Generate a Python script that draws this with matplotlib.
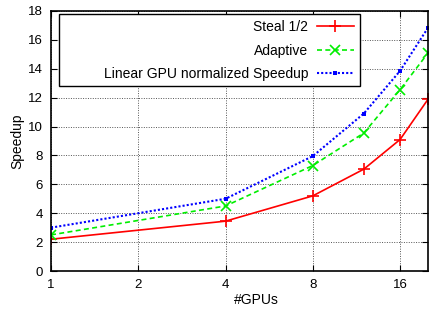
import matplotlib
matplotlib.use("Agg")
import matplotlib.pyplot as plt
from matplotlib.patches import Rectangle

plt.rcParams['font.family'] = ['Liberation Sans', 'DejaVu Sans']

gpus = [1, 4, 8, 12, 16, 20]
steal = [2.2, 3.45, 5.2, 7.05, 9.1, 11.9]
adaptive = [2.5, 4.5, 7.3, 9.55, 12.55, 15.1]
linear = [3.0, 5.0, 7.95, 10.9, 13.85, 16.85]
xticks = [1, 2, 4, 8, 16]
yticks = list(range(0, 19, 2))

fig = plt.figure(figsize=(4.36, 3.16), dpi=100)
ax = fig.add_axes([0.117, 0.1424, 0.865, 0.823])

ax.plot(gpus, steal, color='#ff0000', ls='-', lw=1.2, marker='+', ms=8, mew=1.2, label='Steal 1/2')
ax.plot(gpus, adaptive, color='#00ee00', ls=(0, (3, 2)), lw=1.2, marker='x', ms=7, mew=1.2, label='Adaptive')
ax.plot(gpus, linear, color='#0000ff', ls=(0, (1, 1)), lw=1.5, marker='s', ms=3.5, mew=0, label='Linear GPU normalized Speedup')

ax.set_xscale('log', base=2)
ax.set_xlim(1, 20)
ax.set_ylim(0, 18)
ax.set_xticks(xticks)
ax.set_xticklabels([str(t) for t in xticks])
ax.minorticks_off()
ax.set_yticks(yticks)
ax.tick_params(direction='in', top=True, right=True, labelsize=9.5, length=4, width=0.8, pad=6)
ax.grid(True, color='#555555', ls=(0, (1, 1.5)), lw=0.7)
for s in ax.spines.values():
    s.set_linewidth(1.2)

ax.set_xlabel('#GPUs', fontsize=10)
ax.xaxis.set_label_coords(0.545, -0.085)
ax.set_ylabel('Speedup', fontsize=10)
ax.yaxis.set_label_coords(-0.07, 0.5)

# gnuplot-style key box: wider than its contents, text right aligned
ax.add_patch(Rectangle((0.021, 0.712), 0.799, 0.276, transform=ax.transAxes,
                       facecolor='white', edgecolor='black', lw=1.0, zorder=4))
leg = ax.legend(loc='upper right', bbox_to_anchor=(0.82, 0.99), markerfirst=False,
                fontsize=10, handlelength=2.7, frameon=False,
                borderpad=0.45, labelspacing=0.7, handletextpad=0.6,
                borderaxespad=0)
leg.set_zorder(5)
for t in leg.get_texts():
    t.set_ha('right')
leg._legend_box.align = 'right'

fig.savefig('out.png', dpi=100)
